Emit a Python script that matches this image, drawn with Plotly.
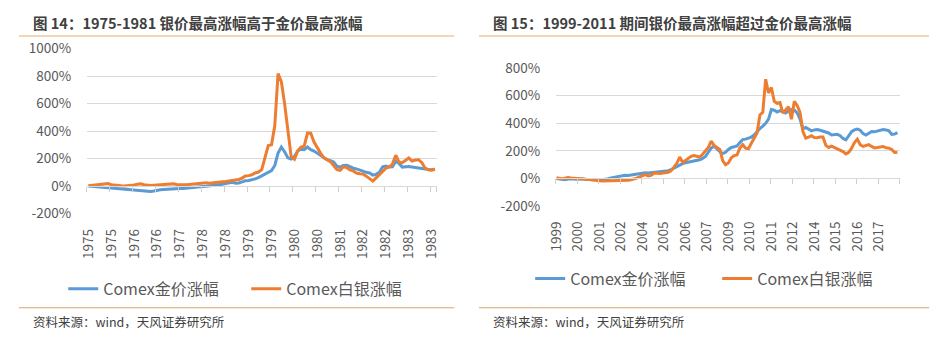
import plotly.graph_objects as go

# ---------------- data ----------------
# Left panel: monthly, Feb 1975 .. Dec 1983 (category index 0..106)
left_start_month = 2  # February 1975
left_start_year = 1975
gold_left = [0, -2, -4, -6, -8, -9, -11, -14, -18, -22,
             -24, -25, -27, -28, -30, -31, -32, -35, -38, -39,
             -36, -30, -27, -25, -23, -20, -17, -16, -18, -17,
             -14, -12, -11, -9, -6, -4, -2, 0, 2, 5,
             10, 13, 18, 22, 27, 20, 22, 30, 38, 40,
             44, 52, 62, 75, 92, 105, 112, 150, 240, 284,
             250, 205, 196, 215, 255, 268, 265, 284, 265, 255,
             240, 225, 205, 192, 185, 175, 145, 138, 150, 152,
             142, 130, 125, 115, 110, 100, 95, 80, 85, 100,
             140, 145, 138, 140, 180, 165, 138, 140, 142, 138,
             135, 136, 132, 125, 120, 118, 122]
silver_left = [2, 4, 6, 8, 10, 14, 18, 10, 6, 4,
               2, 0, 1, 4, 8, 14, 16, 10, 5, 4,
               6, 8, 7, 9, 12, 16, 17, 12, 8, 9,
               10, 13, 15, 14, 18, 22, 24, 21, 25, 28,
               30, 32, 34, 38, 44, 45, 48, 58, 74, 76,
               82, 95, 102, 120, 200, 295, 300, 440, 818, 760,
               600, 390, 215, 195, 255, 284, 290, 386, 385, 320,
               275, 240, 205, 190, 178, 150, 120, 115, 140, 135,
               118, 110, 95, 90, 88, 72, 55, 36, 60, 85,
               110, 130, 140, 160, 225, 175, 170, 185, 204, 182,
               190, 192, 170, 130, 118, 115, 122]
left_label_every = 7

# Right panel: every second month, Jan 1999 .. Dec 2018 (month index 0..239)
right_start_year = 1999
right_n_months = 240
right_step = 2
gold_right = [0, -3, -8, -10, -5, -2, -4, -6, -4, -3,
              -6, -8, -10, -12, -14, -12, -10, -8, -2, 4,
              8, 12, 14, 18, 23, 22, 26, 30, 34, 36,
              38, 41, 40, 42, 44, 45, 47, 50, 52, 56,
              64, 75, 90, 100, 108, 114, 118, 127, 128, 132,
              136, 145, 160, 190, 220, 234, 212, 195, 180, 190,
              210, 225, 230, 236, 260, 282, 285, 292, 300, 315,
              340, 362, 380, 400, 430, 500, 495, 482, 492, 485,
              475, 490, 500, 495, 475, 430, 360, 370, 355, 345,
              352, 355, 350, 345, 336, 330, 316, 318, 320, 310,
              290, 280, 310, 340, 352, 358, 350, 325, 315, 330,
              340, 338, 345, 348, 355, 352, 345, 320, 322, 332]
silver_right = [5, 0, -4, 2, 6, 3, 0, 2, -2, -4,
                -5, -8, -12, -14, -16, -17, -18, -18, -15, -17,
                -16, -14, -16, -15, -16, -14, -10, -6, 2, 12,
                22, 28, 18, 22, 38, 40, 36, 38, 42, 45,
                55, 80, 110, 155, 118, 130, 145, 160, 166, 160,
                155, 175, 200, 225, 270, 240, 225, 210, 130, 100,
                112, 150, 166, 170, 220, 245, 220, 215, 255, 290,
                330, 460, 480, 720, 620, 660, 560, 545, 550, 475,
                500, 520, 430, 560, 530, 480, 340, 292, 300, 310,
                296, 295, 300, 300, 240, 225, 234, 225, 212, 205,
                195, 178, 190, 220, 260, 285, 245, 232, 240, 245,
                232, 222, 225, 230, 232, 222, 220, 210, 188, 190]
right_label_every = 15

series_names = ["Comex金价涨幅", "Comex白银涨幅"]
titles = ["图 14：1975-1981 银价最高涨幅高于金价最高涨幅",
          "图 15：1999-2011 期间银价最高涨幅超过金价最高涨幅"]
source_text = "资料来源：wind，天风证券研究所"
left_yticks = [-200, 0, 200, 400, 600, 800, 1000]
right_yticks = [-200, 0, 200, 400, 600, 800]

# ---------------- styles ----------------
W, H = 942, 345
BLUE = "#5b9bd5"
ORANGE = "#ed7d31"
GRID = "#d9d9d9"
TICKC = "#595959"
FONT = "Noto Sans CJK SC, Microsoft YaHei, sans-serif"
LW = 3

def px_x(p):
    return p / W

def px_y(p):
    return 1 - p / H

# derived x categories
x_left = list(range(len(gold_left)))
left_tickvals = list(range(0, len(gold_left), left_label_every))
left_ticktext = [str(left_start_year + (left_start_month - 1 + i) // 12) for i in left_tickvals]
left_bounds = [v - 0.5 for v in left_tickvals] + [len(gold_left) - 0.5]

x_right = list(range(0, right_n_months, right_step))
right_tickvals = list(range(0, right_n_months, right_label_every))
right_ticktext = [str(right_start_year + m // 12) for m in right_tickvals]
right_bounds = [v - 0.5 for v in right_tickvals] + [right_n_months - 0.5]

fig = go.Figure()
# helper traces to register the zero-line category axes (drawn first, below the data)
fig.add_trace(go.Scatter(x=[0], y=[0], mode="none", showlegend=False, hoverinfo="skip",
                         xaxis="x3", yaxis="y"))
fig.add_trace(go.Scatter(x=[0], y=[0], mode="none", showlegend=False, hoverinfo="skip",
                         xaxis="x4", yaxis="y2"))
fig.add_trace(go.Scatter(x=x_left, y=gold_left, name=series_names[0], mode="lines",
                         line=dict(color=BLUE, width=LW), xaxis="x", yaxis="y", legend="legend"))
fig.add_trace(go.Scatter(x=x_left, y=silver_left, name=series_names[1], mode="lines",
                         line=dict(color=ORANGE, width=LW), xaxis="x", yaxis="y", legend="legend"))
fig.add_trace(go.Scatter(x=x_right, y=gold_right, name=series_names[0], mode="lines",
                         line=dict(color=BLUE, width=LW), xaxis="x2", yaxis="y2", legend="legend2"))
fig.add_trace(go.Scatter(x=x_right, y=silver_right, name=series_names[1], mode="lines",
                         line=dict(color=ORANGE, width=LW), xaxis="x2", yaxis="y2", legend="legend2"))

ldom_y = [px_y(215), px_y(40)]
rdom_y = [px_y(207), px_y(60.7)]
ldom_x = [px_x(77), px_x(432)]
rdom_x = [px_x(553), px_x(902)]
lrange = [-200, 1000]
rrange = [-200, 800]
lzero = ldom_y[0] + (0 - lrange[0]) / (lrange[1] - lrange[0]) * (ldom_y[1] - ldom_y[0])
rzero = rdom_y[0] + (0 - rrange[0]) / (rrange[1] - rrange[0]) * (rdom_y[1] - rdom_y[0])

tickfont = dict(family=FONT, size=13.5, color=TICKC)

common_x = dict(showgrid=False, zeroline=False, showline=False, tickangle=-90,
                ticks="outside", ticklen=9, tickcolor="rgba(0,0,0,0)", tickfont=tickfont,
                tickmode="array")
fig.update_layout(
    xaxis=dict(domain=ldom_x, range=[-0.5, len(gold_left) - 0.5], anchor="y",
               tickvals=left_tickvals, ticktext=left_ticktext, **common_x),
    xaxis2=dict(domain=rdom_x, range=[-0.5, right_n_months - 0.5], anchor="y2",
                tickvals=right_tickvals, ticktext=right_ticktext, **common_x),
    xaxis3=dict(overlaying="x", matches="x", anchor="free", position=lzero,
                showgrid=False, zeroline=False, showline=True, linecolor=GRID, linewidth=1,
                ticks="outside", ticklen=5, tickcolor="#cfcfcf", tickmode="array",
                tickvals=left_bounds, showticklabels=False),
    xaxis4=dict(overlaying="x2", matches="x2", anchor="free", position=rzero,
                showgrid=False, zeroline=False, showline=True, linecolor=GRID, linewidth=1,
                ticks="outside", ticklen=5, tickcolor="#cfcfcf", tickmode="array",
                tickvals=right_bounds, showticklabels=False),
    yaxis=dict(domain=ldom_y, range=lrange, anchor="x", tickmode="array",
               tickvals=left_yticks, ticktext=[f"{v}%" for v in left_yticks],
               showgrid=True, gridcolor=GRID, gridwidth=1, zeroline=False,
               ticks="outside", ticklen=12, tickcolor="rgba(0,0,0,0)", tickfont=tickfont),
    yaxis2=dict(domain=rdom_y, range=rrange, anchor="x2", tickmode="array",
                tickvals=right_yticks, ticktext=[f"{v}%" for v in right_yticks],
                showgrid=True, gridcolor=GRID, gridwidth=1, zeroline=False,
                ticks="outside", ticklen=12, tickcolor="rgba(0,0,0,0)", tickfont=tickfont),
    legend=dict(orientation="h", x=px_x(53), y=px_y(295), xanchor="left", yanchor="middle",
                font=dict(family=FONT, size=16, color=TICKC), bgcolor="rgba(0,0,0,0)",
                entrywidth=138, itemwidth=30),
    legend2=dict(orientation="h", x=px_x(527), y=px_y(284), xanchor="left", yanchor="middle",
                 font=dict(family=FONT, size=16, color=TICKC), bgcolor="rgba(0,0,0,0)",
                 entrywidth=142, itemwidth=30),
    width=W, height=H,
    margin=dict(l=0, r=0, t=0, b=0),
    paper_bgcolor="white", plot_bgcolor="white",
    showlegend=True,
)

# titles, rules and source notes (decoration)
for xs, xe, t in [(8, 450, titles[0]), (475, 932, titles[1])]:
    fig.add_annotation(text=f"<b>{t}</b>", x=px_x(xs + 12), y=px_y(12), xref="paper", yref="paper",
                       xanchor="left", yanchor="middle", showarrow=False,
                       font=dict(family=FONT, size=14.5, color="#404040"))
    fig.add_shape(type="line", xref="paper", yref="paper", x0=px_x(xs), x1=px_x(xe),
                  y0=px_y(26.5), y1=px_y(26.5), line=dict(color="#efc89a", width=1.5))
    fig.add_shape(type="line", xref="paper", yref="paper", x0=px_x(xs), x1=px_x(xe),
                  y0=px_y(315), y1=px_y(315), line=dict(color="#d9a46a", width=1.2))
    fig.add_annotation(text=source_text, x=px_x(xs + 12), y=px_y(330), xref="paper", yref="paper",
                       xanchor="left", yanchor="middle", showarrow=False,
                       font=dict(family=FONT, size=12.5, color="#404040"))

fig.write_html("out.html")
